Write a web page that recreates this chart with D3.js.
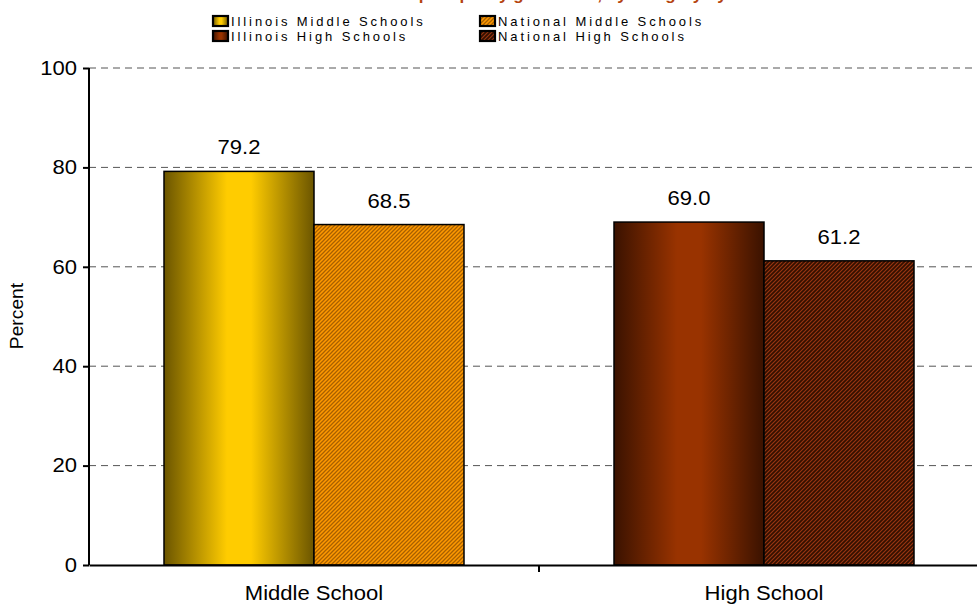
<!DOCTYPE html>
<html><head><meta charset="utf-8">
<script src="https://cdn.jsdelivr.net/npm/d3@7/dist/d3.min.js"></script>
<style>
body{margin:0;background:#fff;}
svg{display:block;font-family:Arial,"Liberation Sans",sans-serif;}
</style></head>
<body><svg id="c" width="977" height="605"></svg>
<script>
const categories = ["Middle School", "High School"];
const seriesNames = ["Illinois Middle Schools", "National Middle Schools", "Illinois High Schools", "National High Schools"];
const illinoisValues = [79.2, 69.0];
const nationalValues = [68.5, 61.2];
const yTicks = [0, 20, 40, 60, 80, 100];
const titleText = "Schools that adopted policy guidelines, by category by School";

const svg = d3.select("#c");
const W = 977, H = 605;
const FONT = "Arial,'Liberation Sans',sans-serif";
const m = {left: 89, right: -12, top: 68, bottom: 40};
const x = d3.scaleBand().domain(categories).range([m.left, W - m.right]).paddingInner(0).paddingOuter(0);
const y = d3.scaleLinear().domain([0, 100]).range([565, 68]);

function stretch(sel, f) {
  sel.each(function() {
    const w = this.getComputedTextLength();
    d3.select(this).attr("textLength", w * f).attr("lengthAdjust", "spacingAndGlyphs");
  });
}

const defs = svg.append("defs");
function grad(id, edge, mid) {
  const g = defs.append("linearGradient").attr("id", id).attr("x1", "0").attr("x2", "1").attr("y1", "0").attr("y2", "0");
  g.append("stop").attr("offset", "0").attr("stop-color", edge);
  g.append("stop").attr("offset", "0.42").attr("stop-color", mid);
  g.append("stop").attr("offset", "0.58").attr("stop-color", mid);
  g.append("stop").attr("offset", "1").attr("stop-color", edge);
}
grad("gIM", "#6b5500", "#ffcc00");
grad("gIH", "#3a1200", "#993300");
function hatch(id, bg, fg, sw) {
  const p = defs.append("pattern").attr("id", id).attr("patternUnits", "userSpaceOnUse").attr("width", 4).attr("height", 4);
  p.append("rect").attr("width", 4).attr("height", 4).attr("fill", bg);
  p.append("path").attr("d", "M-1,1 l2,-2 M0,4 l4,-4 M3,5 l2,-2").attr("stroke", fg).attr("stroke-width", sw);
}
hatch("pNM", "#ff9900", "#a86000", 1.3);
hatch("pNH", "#331000", "#9a3510", 1.1);

// title (clipped at top, as in the reference)
svg.append("text").attr("x", 535).attr("y", 0).attr("text-anchor", "middle")
  .attr("font-size", 17).attr("font-weight", "bold").attr("fill", "#b5440f").text(titleText);

// gridlines
svg.append("g").selectAll("line").data(yTicks.filter(d => d > 0)).join("line")
  .attr("x1", m.left).attr("x2", W).attr("y1", d => y(d)).attr("y2", d => y(d))
  .attr("stroke", "#555").attr("stroke-width", 1).attr("stroke-dasharray", "7,5");

// bars
const groupW = 300;
const fills = [["url(#gIM)", "url(#pNM)"], ["url(#gIH)", "url(#pNH)"]];
categories.forEach((c, i) => {
  const cx = x(c) + x.bandwidth() / 2;
  const sub = d3.scaleBand().domain([0, 1]).range([cx - groupW / 2, cx + groupW / 2]);
  const vals = [illinoisValues[i], nationalValues[i]];
  vals.forEach((v, j) => {
    svg.append("rect").attr("x", sub(j)).attr("y", y(v)).attr("width", sub.bandwidth()).attr("height", y(0) - y(v))
      .attr("fill", fills[i][j]).attr("stroke", "#000").attr("stroke-width", 1.5);
    svg.append("text").attr("class", "vl").attr("x", sub(j) + sub.bandwidth() / 2).attr("y", y(v) - 17).attr("text-anchor", "middle")
      .attr("font-size", 19.5).attr("fill", "#000").text(v.toFixed(1));
  });
});

// y axis
const ya = svg.append("g").attr("transform", `translate(${m.left},0)`)
  .call(d3.axisLeft(y).tickValues(yTicks).tickSize(6).tickPadding(6).tickFormat(d3.format("d")));
ya.select(".domain").attr("stroke", "#000").attr("stroke-width", 2).attr("d", `M0,${y(100)}V${y(0)}`);
ya.selectAll(".tick line").attr("stroke", "#000").attr("stroke-width", 2);
ya.selectAll("text").attr("font-size", 19.5).attr("fill", "#000").attr("font-family", FONT);

// x axis
const xa = svg.append("g").attr("transform", `translate(0,${y(0)})`)
  .call(d3.axisBottom(x).tickSize(0).tickPadding(21));
xa.select(".domain").attr("stroke", "#000").attr("stroke-width", 2);
xa.selectAll("text").attr("font-size", 19.5).attr("fill", "#000").attr("font-family", FONT);
svg.append("line").attr("x1", 539).attr("x2", 539).attr("y1", y(0)).attr("y2", y(0) + 7).attr("stroke", "#000").attr("stroke-width", 2);

// y label
svg.append("text").attr("class", "yl").attr("transform", "translate(23,316) rotate(-90)").attr("text-anchor", "middle")
  .attr("font-size", 17.5).attr("fill", "#000").text("Percent");

// legend
const legendPos = [[212, 26], [479, 26], [212, 41], [479, 41]];
const legFills = ["url(#gIM)", "url(#pNM)", "url(#gIH)", "url(#pNH)"];
seriesNames.forEach((s, i) => {
  const [lx, ly] = legendPos[i];
  svg.append("rect").attr("x", lx + 1).attr("y", ly - 10).attr("width", 15).attr("height", 10)
    .attr("fill", legFills[i]).attr("stroke", "#000").attr("stroke-width", 2.2);
  svg.append("text").attr("x", lx + 19).attr("y", ly).attr("font-size", 13).attr("letter-spacing", 2.9)
    .attr("fill", "#000").text(s);
});

stretch(ya.selectAll(".tick text"), 1.13);
stretch(xa.selectAll(".tick text"), 1.13);
stretch(svg.selectAll("text.vl"), 1.13);
stretch(svg.selectAll("text.yl"), 1.1);
</script></body></html>
